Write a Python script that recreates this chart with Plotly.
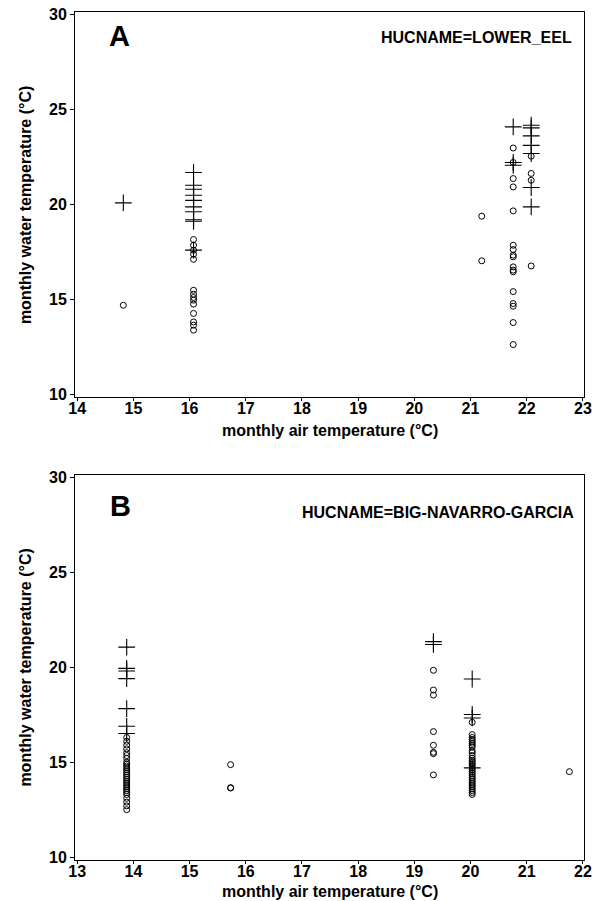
import plotly.graph_objects as go
from plotly.subplots import make_subplots

# ---- Panel A: HUCNAME=LOWER_EEL ----
a_plus_x = [14.82] + [16.07]*10 + [21.76]*3 + [22.08]*7
a_plus_y = [20.07,
            21.67, 21.0, 20.79, 20.47, 20.2, 19.86, 19.6, 19.18, 19.1, 17.58,
            24.07, 22.2, 22.05,
            24.16, 24.02, 23.6, 23.1, 22.67, 20.88, 19.86]

a_circ_x = [14.82] + [16.07]*14 + [21.2]*2 + [21.76]*17 + [22.08]*4
a_circ_y = [14.68,
            18.14, 17.84, 17.58, 17.37, 17.1, 15.47, 15.26, 15.09, 14.95, 14.74, 14.25, 13.8, 13.63, 13.37,
            19.37, 17.02,
            22.96, 22.2, 21.35, 20.91, 19.65, 17.84, 17.61, 17.32, 17.23, 16.7, 16.53, 16.44, 15.4, 14.77,
            14.63, 13.77, 12.61,
            22.53, 21.62, 21.26, 16.75]

# ---- Panel B: HUCNAME=BIG-NAVARRO-GARCIA ----
b_plus_x = [13.88]*7 + [19.34]*2 + [20.03]*4
b_plus_y = [21.06, 19.94, 19.8, 19.4, 17.82, 16.89, 16.51,
            21.35, 21.2,
            19.38, 17.51, 17.33, 14.7]

b_circ_13 = [16.3, 16.1, 15.9, 15.7, 15.5, 15.35, 15.2, 15.0, 14.9, 14.8, 14.7, 14.6,
             14.5, 14.4, 14.3, 14.2, 14.1, 14.0, 13.9, 13.8, 13.7, 13.6, 13.5, 13.4,
             13.3, 13.1, 12.9, 12.7, 12.5]
b_circ_15 = [14.87, 13.66, 13.64]
b_circ_19 = [19.84, 18.8, 18.53, 16.61, 15.89, 15.52, 15.45, 14.33]
b_circ_20 = [17.1, 16.45, 16.3, 16.2, 16.1, 16.0, 15.9, 15.8, 15.6, 15.5, 15.35, 15.2,
             15.1, 15.0, 14.9, 14.8, 14.7, 14.6, 14.5, 14.4, 14.3, 14.2, 14.1, 14.0,
             13.9, 13.8, 13.7, 13.6, 13.5, 13.4, 13.3]
b_circ_21 = [14.5]
b_circ_x = ([13.88]*len(b_circ_13) + [15.73]*len(b_circ_15) + [19.34]*len(b_circ_19)
            + [20.03]*len(b_circ_20) + [21.76]*len(b_circ_21))
b_circ_y = b_circ_13 + b_circ_15 + b_circ_19 + b_circ_20 + b_circ_21

y_ticks = [10, 15, 20, 25, 30]
xa_ticks = [14, 15, 16, 17, 18, 19, 20, 21, 22, 23]
xb_ticks = [13, 14, 15, 16, 17, 18, 19, 20, 21, 22]

X_TITLE = "monthly air temperature (°C)"
Y_TITLE = "monthly water temperature (°C)"

FONT = "Liberation Sans, Arial, sans-serif"

fig = make_subplots(rows=2, cols=1, vertical_spacing=0.092)

def add_panel(row, px, py, cx, cy):
    fig.add_trace(go.Scatter(x=cx, y=cy, mode="markers", showlegend=False,
                             marker=dict(symbol="circle-open", size=6, color="black",
                                         line=dict(width=1, color="black"))),
                  row=row, col=1)
    fig.add_trace(go.Scatter(x=px, y=py, mode="markers", showlegend=False,
                             marker=dict(symbol="cross-thin-open", size=12, color="black",
                                         line=dict(width=1.1, color="black"))),
                  row=row, col=1)

add_panel(1, a_plus_x, a_plus_y, a_circ_x, a_circ_y)
add_panel(2, b_plus_x, b_plus_y, b_circ_x, b_circ_y)

def b(t):
    return "<b>%s</b>" % t

axis_common = dict(showline=True, linecolor="black", linewidth=1, mirror=True,
                   ticks="outside", tickcolor="black", showgrid=False,
                   zeroline=False, ticklabeloverflow="allow", automargin=False,
                   tickfont=dict(family=FONT, size=16, color="black", weight="bold"))

fig.update_xaxes(**axis_common, ticklen=3, ticklabelstandoff=-6)
fig.update_yaxes(**axis_common, ticklen=4)
fig.update_xaxes(range=[13.96, 23.02], tickvals=xa_ticks, ticktext=[b(t) for t in xa_ticks], row=1, col=1)
fig.update_xaxes(range=[12.96, 22.02], tickvals=xb_ticks, ticktext=[b(t) for t in xb_ticks], row=2, col=1)
for r in (1, 2):
    fig.update_yaxes(range=[9.85, 30.12], tickvals=y_ticks, ticktext=[b(t) for t in y_ticks], row=r, col=1)

title_font = dict(family=FONT, size=16, color="black")
# axis titles in paper coordinates
for ty in (0.506, -0.037):
    fig.add_annotation(x=0.5, y=ty, xref="paper", yref="paper", text=b(X_TITLE), showarrow=False,
                       xanchor="center", yanchor="middle", font=title_font)
for ty in (0.7724, 0.2270):
    fig.add_annotation(x=-0.098, y=ty, xref="paper", yref="paper", text=b(Y_TITLE), showarrow=False,
                       xanchor="center", yanchor="middle", textangle=-90, font=title_font)

fig.add_annotation(x=0.063, y=1.0, xref="x domain", yref="y domain", text=b("A"), showarrow=False,
                   xanchor="left", yanchor="top", yshift=-6,
                   font=dict(family=FONT, size=29, color="black"))
fig.add_annotation(x=0.98, y=1.0, xref="x domain", yref="y domain", text=b("HUCNAME=LOWER_EEL"),
                   showarrow=False, xanchor="right", yanchor="top", yshift=-15,
                   font=dict(family=FONT, size=16, color="black"))
fig.add_annotation(x=0.065, y=1.0, xref="x2 domain", yref="y2 domain", text=b("B"), showarrow=False,
                   xanchor="left", yanchor="top", yshift=-13,
                   font=dict(family=FONT, size=29, color="black"))
fig.add_annotation(x=0.985, y=1.0, xref="x2 domain", yref="y2 domain", text=b("HUCNAME=BIG-NAVARRO-GARCIA"),
                   showarrow=False, xanchor="right", yanchor="top", yshift=-27,
                   font=dict(family=FONT, size=16, color="black"))

fig.update_layout(width=592, height=901, margin=dict(l=75, r=8, t=12, b=41),
                  plot_bgcolor="white", paper_bgcolor="white",
                  font=dict(family=FONT, color="black"))

fig.write_html("out.html")
